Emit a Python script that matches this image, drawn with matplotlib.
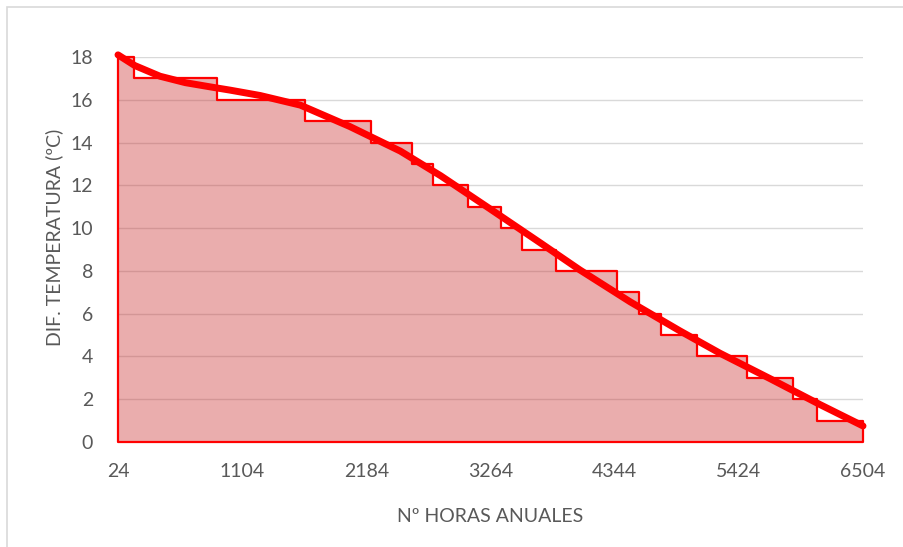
import matplotlib
matplotlib.use("Agg")
import matplotlib.pyplot as plt
from matplotlib.patches import Rectangle

# step data: start hour of each 1 ºC band (sorted duration curve)
step_start = [24, 163, 885, 1650, 2224, 2581, 2764, 3068, 3355, 3538,
              3834, 4364, 4556, 4747, 5060, 5495, 5895, 6104]
step_value = [18, 17, 16, 15, 14, 13, 12, 11, 10, 9,
              8, 7, 6, 5, 4, 3, 2, 1]
last_hour = 6504

# smooth trend line
curve_hours = [24, 170, 390, 610, 830, 1000, 1260, 1610, 2040, 2480,
               2830, 3260, 3700, 4040, 4480, 4910, 5260, 5700, 6130, 6504]
curve_value = [18.1, 17.6, 17.1, 16.8, 16.6, 16.45, 16.2, 15.75, 14.75, 13.6,
               12.45, 10.9, 9.3, 8.05, 6.55, 5.2, 4.15, 2.95, 1.75, 0.75]

x_ticks = [24, 1104, 2184, 3264, 4344, 5424, 6504]
y_ticks = [0, 2, 4, 6, 8, 10, 12, 14, 16, 18]

plt.rcParams['font.family'] = ['Lato', 'DejaVu Sans']
grey = '#595959'

fig = plt.figure(figsize=(9.04, 5.47), dpi=100)
ax = fig.add_axes([118 / 904, 1 - 442 / 547, 745 / 904, 385 / 547])

# chart border (cropped on right / bottom)
fig.patches.append(Rectangle((7 / 904, -0.1), 1.2, 1.1 - 7 / 547,
                             transform=fig.transFigure, fill=False,
                             edgecolor='#D9D9D9', linewidth=1.2))

xs = step_start + [last_hour]
ys = step_value + [step_value[-1]]
ax.fill_between(xs, ys, 0, step='post', facecolor=(0.8, 0.2, 0.2, 0.4),
                edgecolor='#FF0000', linewidth=1.6, zorder=2, clip_on=False)
ax.plot(curve_hours, curve_value, color='#FF0000', linewidth=5,
        solid_capstyle='round', solid_joinstyle='round', zorder=3, clip_on=False)

ax.set_xlim(24, 6504)
ax.set_ylim(0, 18)
ax.set_xticks(x_ticks)
ax.set_yticks(y_ticks)
ax.grid(axis='y', color='#D9D9D9', linewidth=1)
ax.set_axisbelow(True)
for s in ax.spines.values():
    s.set_visible(False)
ax.tick_params(length=0, labelsize=14, colors=grey)
ax.tick_params(axis='y', pad=18)
ax.tick_params(axis='x', pad=15)

ax.set_xlabel('Nº HORAS ANUALES', fontsize=14, color=grey)
ax.set_ylabel('DIF. TEMPERATURA (ºC)', fontsize=14, color=grey)
ax.xaxis.set_label_coords(0.499, -0.171)
ax.yaxis.set_label_coords(-0.074, 0.532)

fig.savefig('out.png', dpi=100)
